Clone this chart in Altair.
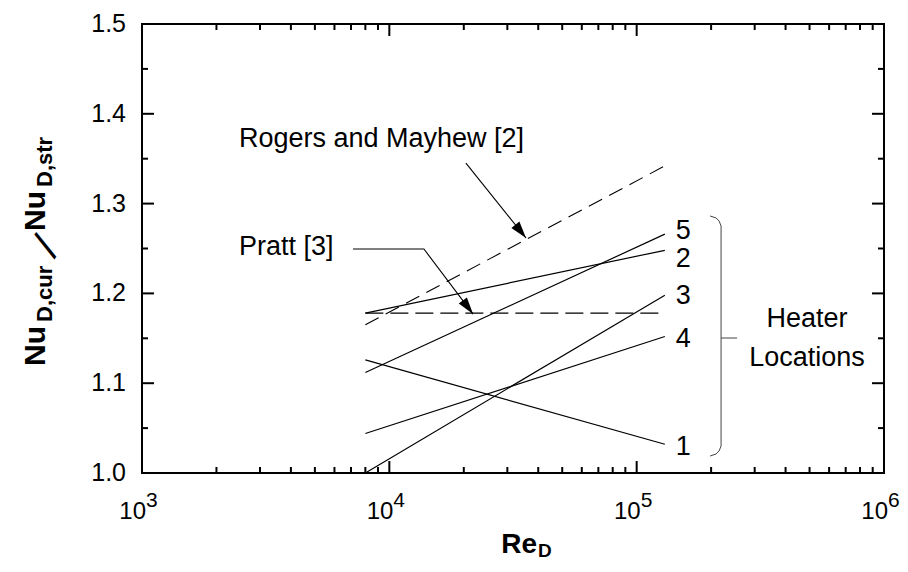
import altair as alt
import pandas as pd

FONT = "Liberation Sans"

# ---- data ----
re_start = 8000
re_end = 130000
heater_ids = ["1", "2", "3", "4", "5"]
heater_start = [1.126, 1.178, 1.000, 1.044, 1.112]
heater_end = [1.032, 1.248, 1.198, 1.152, 1.266]
label_y = [1.029, 1.238, 1.197, 1.149, 1.269]

rogers_vals = [1.165, 1.342]
pratt_vals = [1.178, 1.178]

x_major = [1e3, 1e4, 1e5, 1e6]
x_exp = ["3", "4", "5", "6"]
x_minor = [m * 10 ** e for e in (3, 4, 5) for m in range(2, 10)]
y_major = [1.0, 1.1, 1.2, 1.3, 1.4, 1.5]
y_minor = [1.05, 1.15, 1.25, 1.35, 1.45]

ann_text = ["Rogers and Mayhew [2]", "Pratt [3]"]
ann_x = [2466, 2466]
ann_y = [1.372, 1.2517]

heater_text = ["Heater", "Locations"]
heater_text_x = [488700, 488700]
heater_text_y = [1.1715, 1.1286]

# arrows: Rogers (straight), Pratt (elbow)
arrow_id = ["r", "r", "p", "p", "p"]
arrow_x = [20400, 35700, 7130, 13800, 21800]
arrow_y = [1.345, 1.2617, 1.2494, 1.2494, 1.177]
head_x = [35700, 21800]
head_y = [1.2617, 1.177]
head_angle = [321.3, 323.0]

# brace
brace_x = [198100, 209500, 215400, 219400, 219400, 215400, 209500, 198100]
brace_y = [1.2862, 1.2840, 1.2806, 1.2751, 1.0301, 1.0245, 1.0212, 1.0189]
brace_tick_x = [219400, 254700]
brace_tick_y = [1.1503, 1.1503]

# ---- frames ----
xs = alt.Scale(type="log", domain=[1000, 1e6], nice=False)
ys = alt.Scale(domain=[1.0, 1.5], nice=False, zero=False)

heater_df = pd.DataFrame({
    "id": heater_ids * 2,
    "Re": [re_start] * 5 + [re_end] * 5,
    "v": heater_start + heater_end,
})
label_df = pd.DataFrame({"id": heater_ids, "Re": [re_end] * 5, "v": label_y})
rogers_df = pd.DataFrame({"Re": [re_start, re_end], "v": rogers_vals})
pratt_df = pd.DataFrame({"Re": [re_start, re_end], "v": pratt_vals})
ann_df = pd.DataFrame({"t": ann_text, "Re": ann_x, "v": ann_y})
heater_txt_df = pd.DataFrame({"t": heater_text, "Re": heater_text_x, "v": heater_text_y})
arrow_df = pd.DataFrame({"id": arrow_id, "o": list(range(len(arrow_x))), "Re": arrow_x, "v": arrow_y})
head_df = pd.DataFrame({"Re": head_x, "v": head_y, "a": head_angle})
brace_df = pd.DataFrame({"o": list(range(len(brace_x))), "Re": brace_x, "v": brace_y})
brace_tick_df = pd.DataFrame({"Re": [brace_tick_x[0]], "Re2": [brace_tick_x[1]], "v": [brace_tick_y[0]]})
xmaj_df = pd.DataFrame({"Re": x_major, "e": x_exp})
xmin_df = pd.DataFrame({"Re": x_minor})
ymaj_df = pd.DataFrame({"v": y_major})
ymin_df = pd.DataFrame({"v": y_minor})

W, H = 742, 449
MAJ, MIN = 12, 6

X = lambda: alt.X("Re:Q", scale=xs, axis=None)
Y = lambda: alt.Y("v:Q", scale=ys, axis=None)


def rule(df):
    return alt.Chart(df).mark_rule(color="black", strokeWidth=2)


y_maj_l = rule(ymaj_df).encode(y=Y(), x=alt.value(0), x2=alt.value(MAJ))
y_maj_r = rule(ymaj_df).encode(y=Y(), x=alt.value(W), x2=alt.value(W - MAJ))
y_min_l = rule(ymin_df).encode(y=Y(), x=alt.value(0), x2=alt.value(MIN))
y_min_r = rule(ymin_df).encode(y=Y(), x=alt.value(W), x2=alt.value(W - MIN))
x_maj_b = rule(xmaj_df).encode(x=X(), y=alt.value(H), y2=alt.value(H - MAJ))
x_maj_t = rule(xmaj_df).encode(x=X(), y=alt.value(0), y2=alt.value(MAJ))
x_min_b = rule(xmin_df).encode(x=X(), y=alt.value(H), y2=alt.value(H - MIN))
x_min_t = rule(xmin_df).encode(x=X(), y=alt.value(0), y2=alt.value(MIN))

y_labels = alt.Chart(ymaj_df).mark_text(
    font=FONT, fontSize=25, align="right", baseline="middle", color="black"
).encode(y=Y(), x=alt.value(-16), text=alt.Text("v:Q", format=".1f"))

x_lab10 = alt.Chart(xmaj_df).mark_text(
    text="10", font=FONT, fontSize=24, align="right", baseline="middle", dx=4, color="black"
).encode(x=X(), y=alt.value(488))
x_labexp = alt.Chart(xmaj_df).mark_text(
    font=FONT, fontSize=21, align="left", baseline="middle", dx=4, color="black"
).encode(x=X(), y=alt.value(477), text="e:N")

heater_lines = alt.Chart(heater_df).mark_line(color="black", strokeWidth=1.2).encode(
    x=X(), y=Y(), detail="id:N")
heater_labels = alt.Chart(label_df).mark_text(
    font=FONT, fontSize=27, align="left", baseline="middle", dx=11, color="black"
).encode(x=X(), y=Y(), text="id:N")
rogers_line = alt.Chart(rogers_df).mark_line(color="black", strokeWidth=1.1, strokeDash=[15, 8]).encode(
    x=X(), y=Y())
pratt_line = alt.Chart(pratt_df).mark_line(color="black", strokeWidth=1.1, strokeDash=[18, 7]).encode(
    x=X(), y=Y())
ann = alt.Chart(ann_df).mark_text(
    font=FONT, fontSize=27, align="left", baseline="middle", color="black"
).encode(x=X(), y=Y(), text="t:N")
heater_txt = alt.Chart(heater_txt_df).mark_text(
    font=FONT, fontSize=27, align="center", baseline="middle", color="black"
).encode(x=X(), y=Y(), text="t:N")
arrows = alt.Chart(arrow_df).mark_line(color="black", strokeWidth=1.1).encode(
    x=X(), y=Y(), detail="id:N", order="o:Q")
heads = alt.Chart(head_df).mark_point(
    shape="M0,0L-0.3,-1L0.3,-1Z", filled=True, size=1156, color="black", opacity=1, strokeWidth=0
).encode(x=X(), y=Y(), angle=alt.Angle("a:Q", scale=None))
brace = alt.Chart(brace_df).mark_line(color="#444444", strokeWidth=1).encode(
    x=X(), y=Y(), order="o:Q")
brace_tick = alt.Chart(brace_tick_df).mark_rule(color="#444444", strokeWidth=1).encode(
    x=X(), x2="Re2:Q", y=Y())


def txt(s, x, y, size, bold=True, angle=0, align="left", baseline="alphabetic"):
    return alt.Chart(alt.Data(values=[{"k": 1}])).mark_text(
        text=s, font=FONT, fontSize=size, fontWeight="bold" if bold else "normal",
        angle=angle, align=align, baseline=baseline, color="black"
    ).encode(x=alt.value(x), y=alt.value(y))


titles = [
    txt("Re", 395, 529, 28, align="right"),
    txt("D", 396, 533, 19),
    txt("Nu", -97, 342, 30, angle=270),
    txt("D,cur", -90, 298, 22, angle=270),
    txt("/", -95, 223, 42, bold=False, angle=306, align="center", baseline="middle"),
    txt("Nu", -97, 207, 30, angle=270),
    txt("D,str", -90, 163, 22, angle=270),
]

chart = alt.layer(
    y_maj_l, y_maj_r, y_min_l, y_min_r, x_maj_b, x_maj_t, x_min_b, x_min_t,
    y_labels, x_lab10, x_labexp,
    heater_lines, rogers_line, pratt_line, arrows, heads, brace, brace_tick,
    heater_labels, ann, heater_txt, *titles
).properties(
    width=W, height=H,
    autosize=alt.AutoSizeParams(type="none"),
    padding={"left": 134, "top": 16, "right": 16, "bottom": 89},
).configure_view(stroke="black", strokeWidth=2)

chart.save("out.html", embed_options={"renderer": "svg", "actions": False})
